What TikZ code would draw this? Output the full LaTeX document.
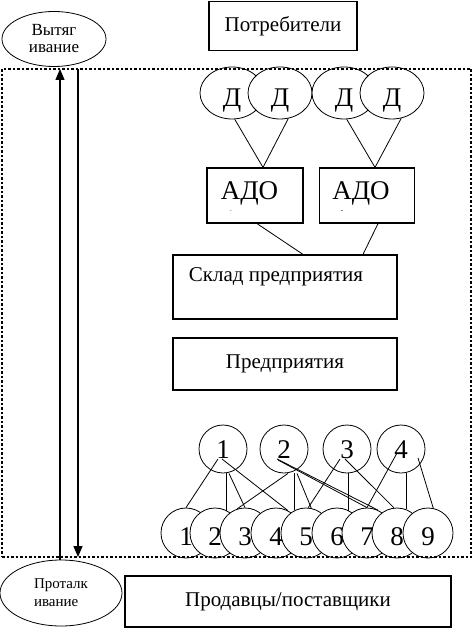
\documentclass[tikz,border=0pt]{standalone}
\usepackage{fontspec}
\setmainfont{Liberation Serif}
\usetikzlibrary{arrows.meta,calc,shapes.geometric}
\tikzset{
  box/.style={draw,line width=1.2pt,inner sep=0pt},
  ell/.style={draw,ellipse,line width=0.8pt,fill=white,inner sep=0pt},
  circ/.style={draw,circle,line width=0.8pt,fill=white,inner sep=0pt},
  conn/.style={line width=0.8pt},
  vconn/.style={line width=1.1pt},
  arr/.style={line width=1.4pt,-{Triangle[length=11pt,width=9pt]}},
  frame/.style={draw,line width=2.4pt,dash pattern=on 2.5pt off 2pt,inner sep=0pt},
  big/.style={font=\fontsize{21}{25}\selectfont},
  huge/.style={font=\fontsize{27}{30}\selectfont},
  digit/.style={font=\fontsize{27}{30}\selectfont},
  small/.style={font=\fontsize{17}{21}\selectfont},
}
\begin{document}
\begin{tikzpicture}[x=1pt,y=-1pt]
\useasboundingbox (0,0) rectangle (473,628);
% top and bottom boxes
\node[box,big,minimum width=148pt,minimum height=49pt] (cons) at (283,26) {Потребители};
\node[box,big,minimum width=326pt,minimum height=51pt] (sell) at (288,601.5) {Продавцы/поставщики};
% ellipses pull / push
\node[ell,small,align=center,minimum width=104pt,minimum height=55pt] (pull) at (54,39) {Вытяг\\[-4pt]ивание};
\node[ell,font=\fontsize{15}{19}\selectfont,align=left,minimum width=122pt,minimum height=66pt] (push) at (61,593) {Проталк\\[-1pt]ивание};
% D ellipses
\node[ell,huge,minimum width=64pt,minimum height=52pt] (d1) at (232,93) {\raisebox{-14pt}[0pt][0pt]{Д}};
\node[ell,huge,minimum width=64pt,minimum height=52pt] (d2) at (280,93) {\raisebox{-14pt}[0pt][0pt]{Д}};
\node[ell,huge,minimum width=64pt,minimum height=52pt] (d3) at (344,93) {\raisebox{-14pt}[0pt][0pt]{Д}};
\node[ell,huge,minimum width=64pt,minimum height=52pt] (d4) at (392,93) {\raisebox{-14pt}[0pt][0pt]{Д}};
% ADO boxes
\node[box,minimum width=96pt,minimum height=55pt] (a1) at (255,195.5) {};
\node[box,minimum width=95pt,minimum height=55pt] (a2) at (367,195.5) {};
\node[huge,inner sep=0pt] (a1t) at (249.5,193) {АДО};
\node[huge,inner sep=0pt] (a2t) at (361,193) {АДО};
\node[font=\fontsize{7}{8}\selectfont,inner sep=0pt] (a1m) at (231,211) {.};
\node[font=\fontsize{7}{8}\selectfont,inner sep=0pt] (a2m) at (342,212) {-};
% warehouse and enterprise
\node[box,minimum width=224pt,minimum height=64pt] (sklad) at (285,287) {};
\node[big,inner sep=0pt] (skladt) at (276,277) {Склад предприятия};
\node[box,big,minimum width=224pt,minimum height=52pt] (ent) at (285,364) {Предприятия};
% connectors top
\draw[conn] (d1.-84) -- ($(a1.north)+(8,0)$);
\draw[conn] (d2.-72) -- ($(a1.north)+(8,0)$);
\draw[conn] (d3.-84) -- ($(a2.north)+(8,0)$);
\draw[conn] (d4.-70) -- ($(a2.north)+(8,0)$);
\draw[conn] ($(a1.south)+(2,0)$) -- ($(sklad.north)+(18,0)$);
\draw[conn] ($(a2.south)+(11,0)$) -- ($(sklad.north)+(78,0)$);
% top circles
\node[circ,digit,minimum size=48pt] (t1) at (223,449) {\raisebox{-9pt}[0pt][0pt]{1}};
\node[circ,digit,minimum size=48pt] (t2) at (284,449) {\raisebox{-9pt}[0pt][0pt]{2}};
\node[circ,digit,minimum size=48pt] (t3) at (347,449) {\raisebox{-9pt}[0pt][0pt]{3}};
\node[circ,digit,minimum size=48pt] (t4) at (401,449) {\raisebox{-9pt}[0pt][0pt]{4}};
% bottom circles
\foreach \i/\x in {1/186,2/215,3/245,4/276,5/306,6/337,7/367,8/397,9/428}{
  \node[circ,digit,minimum size=50pt] (b\i) at (\x,533) {\raisebox{-12pt}[0pt][0pt]{\i}};
}
% connectors between circles
\draw[conn] ($(t1)+(-5,10)$) -- (b1.north);
\draw[vconn] (t1.south -| b2.62) -- (b2.62);
\draw[conn] ($(t1.south)+(6,0)$) -- (b3.north);
\draw[conn] ($(t1)+(-1,10)$) -- (b4.62);
\draw[conn] ($(t2.south)+(4,0)$) -- (b3.108);
\draw[vconn] (t2.south -| b5.116) -- (b5.116);
\draw[conn] ($(t2.south)+(13,0)$) -- (b5.78);
\draw[conn] ($(t2)+(-7,10)$) -- (b7.64);
\draw[conn] ($(t2)+(-6,11)$) -- (b7.90);
\draw[conn] ($(t3)+(-7,10)$) -- (b5.85);
\draw[vconn] (t3.south -| b6.62) -- (b6.62);
\draw[conn] ($(t3)+(-2,10)$) -- (b8.97);
\draw[conn] ($(t4)+(-4,4)$) -- (b7.north);
\draw[vconn] (t4.south -| b8.68) -- (b8.68);
\draw[conn] ($(t4)+(17,9)$) -- (b9.78);
% dotted frame
\node[frame,minimum width=469pt,minimum height=488pt] (fr) at (236.5,313) {};
% arrows
\coordinate (upE) at (60,69);
\coordinate (dnS) at (78,69);
\coordinate (dnE) at (78,557);
\draw[arr] (push.north -| upE) -- (upE);
\draw[arr] (dnS) -- (dnE);
\end{tikzpicture}
\end{document}
